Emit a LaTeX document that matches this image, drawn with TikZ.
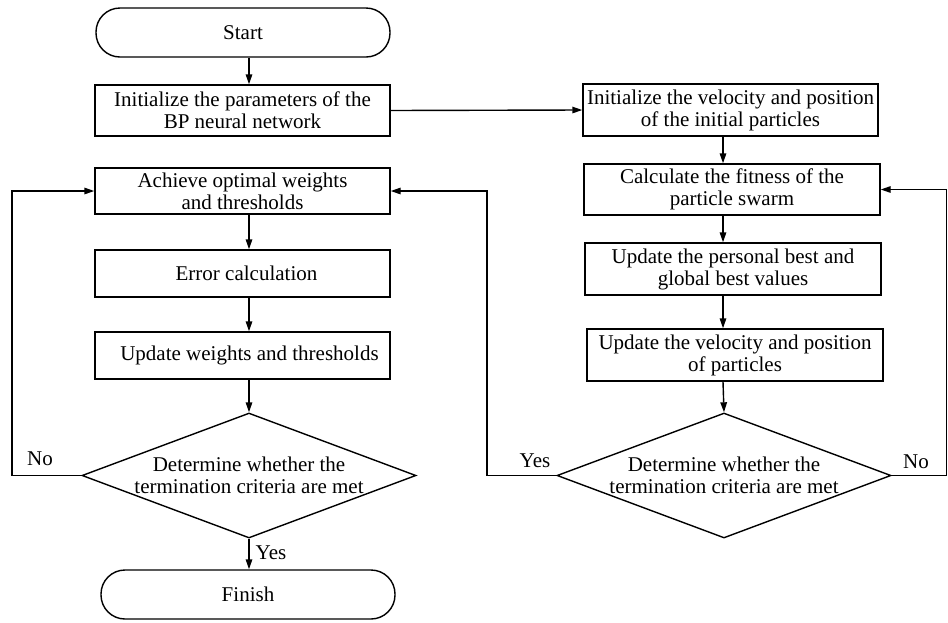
\documentclass[tikz,border=0pt]{standalone}
\usepackage{fontspec}
\setmainfont{Liberation Serif}
\usetikzlibrary{shapes.geometric,arrows.meta}
\begin{document}
\begin{tikzpicture}[x=1pt,y=-1pt,
  every node/.style={font=\fontsize{21}{22}\selectfont},
  box/.style={draw,line width=1.4pt,rectangle,align=center,inner sep=0pt,minimum width=295pt},
  term/.style={draw,line width=1.4pt,rectangle,rounded corners=24pt,align=center,inner sep=0pt,minimum width=294pt,minimum height=49pt},
  dec/.style={draw,line width=1.4pt,diamond,aspect=2.67,align=center,inner sep=-1pt,minimum width=334pt,minimum height=125pt},
  arr/.style={line width=1.4pt,-{Triangle[length=10pt,width=6.5pt]}},
  lbl/.style={inner sep=0pt}]
\useasboundingbox (0,0) rectangle (948,622);
\coordinate (cL) at (249,0);
\coordinate (cR) at (723,0);
% left column
\node[term] (start) at (243,32.5) {Start};
\node[box,minimum height=51pt] (bp) at (242.5,110.5) {Initialize the parameters of the\\BP neural network};
\node[box,minimum height=46pt] (ach) at (242.5,191) {Achieve optimal weights\\and thresholds};
\node[box,minimum height=47pt] (err) at (242.5,273.5) {\hspace*{8pt}Error calculation};
\node[box,minimum height=47pt] (upw) at (242.5,355.5) {\hspace*{14pt}Update weights and thresholds};
\node[dec] (dL) at (249,475.5) {Determine whether the\\termination criteria are met};
\node[term] (fin) at (248,594.5) {Finish};
% right column
\node[box,minimum height=52pt] (iv) at (730.5,110) {Initialize the velocity and position\\of the initial particles};
\node[box,minimum height=51pt,minimum width=296pt] (cf) at (732,189.5) {Calculate the fitness of the\\particle swarm};
\node[box,minimum height=52pt,minimum width=296pt] (up) at (733,269) {Update the personal best and\\global best values};
\node[box,minimum height=52pt,minimum width=296pt] (uv) at (735,355) {Update the velocity and position\\of particles};
\node[dec] (dR) at (724,475.5) {Determine whether the\\termination criteria are met};
% connectors left
\draw[arr] (start.south -| cL) -- (bp.north -| cL);
\draw[arr] (ach.south -| cL) -- (err.north -| cL);
\draw[arr] (err.south -| cL) -- (upw.north -| cL);
\draw[arr] (upw.south -| cL) -- (dL.north);
\draw[arr] (dL.south) -- (fin.north -| dL.south) node[lbl,pos=0.45,right=6pt] {Yes};
\coordinate (xl) at (12,0);
\draw[arr] (dL.west) -- (dL.west -| xl) -- (xl |- ach.west) -- (ach.west);
\node[lbl] at (40,459) {No};
% connectors right
\draw[arr] (bp.east) -- (iv.west);
\draw[arr] (iv.south -| cR) -- (cf.north -| cR);
\draw[arr] (cf.south -| cR) -- (up.north -| cR);
\draw[arr] (up.south -| cR) -- (uv.north -| cR);
\draw[arr] (uv.south -| cR) -- (dR.north);
\coordinate (xm) at (487,0);
\draw[arr] (dR.west) -- (dR.west -| xm) -- (xm |- ach.east) -- (ach.east);
\node[lbl] at (535,461) {Yes};
\coordinate (xr) at (946.5,0);
\draw[arr] (dR.east) -- (dR.east -| xr) -- (xr |- cf.east) -- (cf.east);
\node[lbl] at (916,462) {No};
\end{tikzpicture}
\end{document}
